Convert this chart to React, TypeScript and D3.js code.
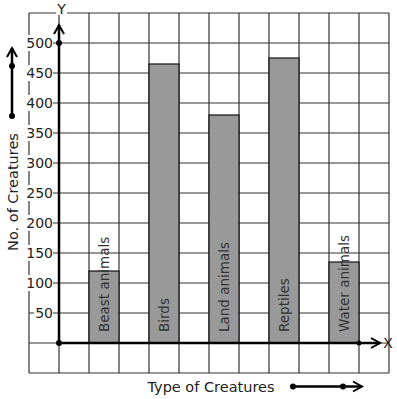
import React from "react";
import * as d3 from "d3";

const categories = ["Beast animals", "Birds", "Land animals", "Reptiles", "Water animals"];
const values = [120, 465, 380, 475, 135];
const yTicks = [50, 100, 150, 200, 250, 300, 350, 400, 450, 500];

const W = 397;
const H = 399;

export default function App() {
  const x = d3.scaleLinear().domain([-1, 11]).range([29, 389]);
  const y = d3.scaleLinear().domain([-50, 550]).range([373, 13]);
  const vGrid = d3.range(-1, 12);
  const hGrid = d3.range(-50, 551, 50);
  const font = "DejaVu Sans, sans-serif";
  const ink = "#222";
  const x0 = x(0);
  const y0 = y(0);
  const chevron = (tx: number, ty: number, dir: "up" | "right") =>
    dir === "up"
      ? `M${tx - 5},${ty + 9} L${tx},${ty} L${tx + 5},${ty + 9}`
      : `M${tx - 9},${ty - 5} L${tx},${ty} L${tx - 9},${ty + 5}`;

  return (
    <div style={{ position: "fixed", left: 0, top: 0, background: "#fff" }}>
      <svg width={W} height={H} style={{ display: "block" }}>
        <rect x={0} y={0} width={W} height={H} fill="#fff" />
        {vGrid.map((g) => (
          <line key={"v" + g} x1={x(g)} x2={x(g)} y1={y(-50)} y2={y(550)} stroke="#333" strokeWidth={1.2} />
        ))}
        {hGrid.map((g) => (
          <line key={"h" + g} x1={x(-1)} x2={x(11)} y1={y(g)} y2={y(g)} stroke="#333" strokeWidth={1.2} />
        ))}
        {values.map((v, i) => (
          <rect
            key={"b" + i}
            x={x(1 + 2 * i)}
            y={y(v)}
            width={x(2 + 2 * i) - x(1 + 2 * i)}
            height={y0 - y(v)}
            fill="#999"
            stroke="#111"
            strokeWidth={1.2}
          />
        ))}
        {categories.map((c, i) => {
          const cx = (x(1 + 2 * i) + x(2 + 2 * i)) / 2;
          const cy = y0 - 11;
          return (
            <text
              key={"l" + i}
              transform={`translate(${cx + 5},${cy}) rotate(-90)`}
              fontFamily={font}
              fontSize={13.5}
              fill="#333"
              textAnchor="start"
            >
              {c}
            </text>
          );
        })}
        {yTicks.map((t) => {
          const w = String(t).length * 8.4;
          return (
            <g key={"t" + t}>
              <rect x={53 - w - 2} y={y(t) - 8} width={w + 2} height={16} fill="#fff" />
              <text x={53} y={y(t) + 5} textAnchor="end" fontFamily={font} fontSize={14} fill={ink}>
                {t}
              </text>
            </g>
          );
        })}
        <line x1={x0} x2={x0} y1={y0} y2={25} stroke="#000" strokeWidth={2.5} />
        <path d={chevron(x0, 25, "up")} fill="none" stroke="#000" strokeWidth={2} />
        <line x1={x0} x2={380} y1={y0} y2={y0} stroke="#000" strokeWidth={2.5} />
        <path d={chevron(380, y0, "right")} fill="none" stroke="#000" strokeWidth={2} />
        <circle cx={x0} cy={y0} r={3} fill="#000" />
        <circle cx={x0} cy={y(500)} r={3} fill="#000" />
        <circle cx={x(10)} cy={y0} r={2.5} fill="#000" />
        <rect x={56} y={2} width={11} height={13} fill="#fff" />
        <text x={61.5} y={14} textAnchor="middle" fontFamily={font} fontSize={14} fill={ink}>Y</text>
        <text x={388} y={y0 + 5} textAnchor="middle" fontFamily={font} fontSize={14} fill={ink}>X</text>
        <text
          transform={`translate(17.5,192) rotate(-90)`}
          textAnchor="middle"
          fontFamily={font}
          fontSize={14.5}
          fill={ink}
        >
          No. of Creatures
        </text>
        <text x={211} y={392} textAnchor="middle" fontFamily={font} fontSize={14.5} fill={ink}>
          Type of Creatures
        </text>
        <line x1={12} x2={12} y1={116} y2={48} stroke="#000" strokeWidth={2.5} />
        <path d={chevron(12, 48, "up")} fill="none" stroke="#000" strokeWidth={2} />
        <circle cx={12} cy={116} r={3} fill="#000" />
        <circle cx={12} cy={66} r={3} fill="#000" />
        <line x1={293} x2={362} y1={386.5} y2={386.5} stroke="#000" strokeWidth={2.5} />
        <path d={chevron(362, 386.5, "right")} fill="none" stroke="#000" strokeWidth={2} />
        <circle cx={293} cy={386.5} r={3} fill="#000" />
        <circle cx={343} cy={386.5} r={3} fill="#000" />
      </svg>
    </div>
  );
}
